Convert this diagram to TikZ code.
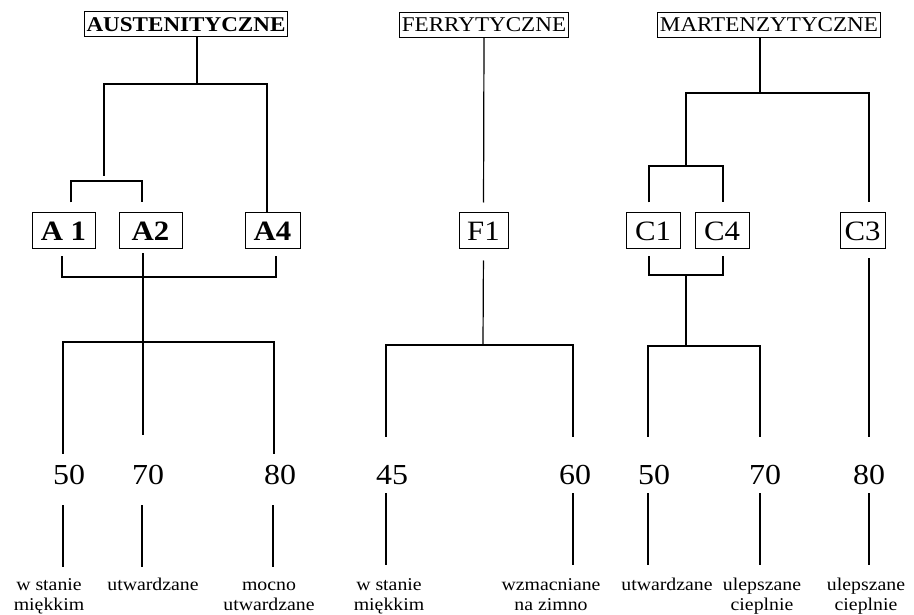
\documentclass[tikz,border=0pt]{standalone}
\usepackage{fontspec}
\setmainfont[FakeStretch=1.1]{Liberation Serif}

\tikzset{
  link/.style={line width=1.2pt},
  alink/.style={line width=1.8pt},
  header/.style={draw, line width=1pt, inner xsep=2pt, inner ysep=0pt,
                 minimum height=25pt, font=\fontsize{21}{21}\selectfont},
  grade/.style={draw, line width=1pt, inner sep=0pt, minimum height=36pt,
                font=\fontsize{28}{28}\selectfont},
  boldgrade/.style={font=\fontsize{28}{28}\selectfont\bfseries},
  num/.style={inner sep=0pt, minimum height=24pt,
              font=\fontsize{29}{29}\selectfont},
  desc/.style={anchor=north, inner sep=0pt, align=center,
               font=\fontsize{18}{20}\selectfont},
  stemline/.style={link, shorten <=6pt, shorten >=11pt},
  astemline/.style={link, shorten <=18pt, shorten >=9pt}
}

\begin{document}
\begin{tikzpicture}[x=1pt, y=-1pt]
  \useasboundingbox (0,0) rectangle (914,615);

  % Groups
  \node[header, font=\fontsize{21}{21}\selectfont\bfseries] (aus) at (186,24.5) {AUSTENITYCZNE};
  \node[header] (fer) at (484,25) {FERRYTYCZNE};
  \node[header] (mar) at (769,25) {MARTENZYTYCZNE};

  % Steel grades
  \node[grade, boldgrade, minimum width=63pt] (a1) at (63.5,231) {A 1};
  \node[grade, boldgrade, minimum width=63pt] (a2) at (150.5,231) {A2};
  \node[grade, boldgrade, minimum width=55pt] (a4) at (272.5,231) {A4};
  \node[grade, minimum width=49pt] (f1) at (483.5,231) {F1};
  \node[grade, minimum width=54pt] (c1) at (653,231) {C1};
  \node[grade, minimum width=54pt] (c4) at (722,231) {C4};
  \node[grade, minimum width=45pt] (c3) at (862.5,231) {C3};

  % Strength classes
  \node[num] (n50a) at (69,475) {50};
  \node[num] (n70a) at (148,475) {70};
  \node[num] (n80a) at (280,475) {80};
  \node[num] (n45f) at (392,475) {45};
  \node[num] (n60f) at (575,475) {60};
  \node[num] (n50m) at (654,475) {50};
  \node[num] (n70m) at (765,475) {70};
  \node[num] (n80m) at (869,475) {80};

  % Conditions
  \node[desc] (t50a) at (49,576) {\strut w stanie\\miękkim};
  \node[desc] (t70a) at (153,576) {\strut utwardzane};
  \node[desc] (t80a) at (269,576) {\strut mocno\\utwardzane};
  \node[desc] (t45f) at (389,576) {\strut w stanie\\miękkim};
  \node[desc] (t60f) at (551,576) {\strut wzmacniane\\na zimno};
  \node[desc] (t50m) at (667,576) {\strut utwardzane};
  \node[desc] (t70m) at (762,576) {\strut ulepszane\\cieplnie};
  \node[desc] (t80m) at (866,576) {\strut ulepszane\\cieplnie};

  % Junctions
  \coordinate (ja) at (197,84);
  \coordinate (al) at (104,176);
  \coordinate (jab) at (104,181);
  \coordinate (jac) at (143,277);
  \coordinate (jae) at (143,342);
  \coordinate (jf) at (483,345);
  \coordinate (jm) at (760,93);
  \coordinate (jmc) at (686,166);
  \coordinate (jmd) at (686,275);
  \coordinate (jme) at (686,346);

  % Austenitic tree
  \draw[alink] (aus.south -| ja) -- (ja);
  \draw[alink] (al) |- (ja) -| ([xshift=-5.5pt]a4.north);
  \draw[alink, shorten <=10pt, shorten >=10pt]
    ([xshift=7.5pt]a1.north) |- (jab) -| ([xshift=-8.5pt]a2.north);
  \draw[alink, shorten <=7pt, shorten >=7pt]
    ([xshift=-1.5pt]a1.south) |- (jac) -| ([xshift=3.5pt]a4.south);
  \draw[alink, shorten <=4pt, shorten >=28pt]
    (jac |- a2.south) -- ([xshift=-5pt]n70a.north);
  \draw[alink, shorten <=9pt, shorten >=9pt]
    ([xshift=-6pt]n50a.north) |- (jae) -| ([xshift=-6pt]n80a.north);

  % Ferritic tree
  \draw[link, shorten >=10pt] (fer.south) -- (f1.north);
  \draw[link, shorten <=11pt] (f1.south) -- (jf);
  \draw[link, shorten <=26pt, shorten >=26pt]
    ([xshift=-6pt]n45f.north) |- (jf) -| ([xshift=-2pt]n60f.north);

  % Martensitic tree
  \draw[link] (mar.south -| jm) -- (jm);
  \draw[link, shorten >=10pt] (jm) -| ([xshift=6.5pt]c3.north);
  \draw[link] (jm) -| (jmc);
  \draw[link, shorten <=10pt, shorten >=10pt]
    ([xshift=-4pt]c1.north) |- (jmc) -| ([xshift=1pt]c4.north);
  \draw[link, shorten <=7pt, shorten >=7pt]
    ([xshift=-4pt]c1.south) |- (jmd) -| ([xshift=1pt]c4.south);
  \draw[link] (jmd) -- (jme);
  \draw[link, shorten <=26pt, shorten >=26pt]
    ([xshift=-6pt]n50m.north) |- (jme) -| ([xshift=-5pt]n70m.north);
  \draw[link, shorten <=9pt, shorten >=26pt]
    ([xshift=6.5pt]c3.south) -- (n80m.north);

  % Stems to conditions
  \draw[astemline] ([xshift=-6pt]n50a.south) -- ([xshift=-6pt]n50a.south |- t50a.north);
  \draw[astemline] ([xshift=-6pt]n70a.south) -- ([xshift=-6pt]n70a.south |- t70a.north);
  \draw[astemline] ([xshift=-7pt]n80a.south) -- ([xshift=-7pt]n80a.south |- t80a.north);
  \draw[stemline] ([xshift=-6pt]n45f.south) -- ([xshift=-6pt]n45f.south |- t45f.north);
  \draw[stemline] ([xshift=-2pt]n60f.south) -- ([xshift=-2pt]n60f.south |- t60f.north);
  \draw[stemline] ([xshift=-6pt]n50m.south) -- ([xshift=-6pt]n50m.south |- t50m.north);
  \draw[stemline] ([xshift=-5pt]n70m.south) -- ([xshift=-5pt]n70m.south |- t70m.north);
  \draw[stemline] (n80m.south) -- (n80m.south |- t80m.north);
\end{tikzpicture}
\end{document}
